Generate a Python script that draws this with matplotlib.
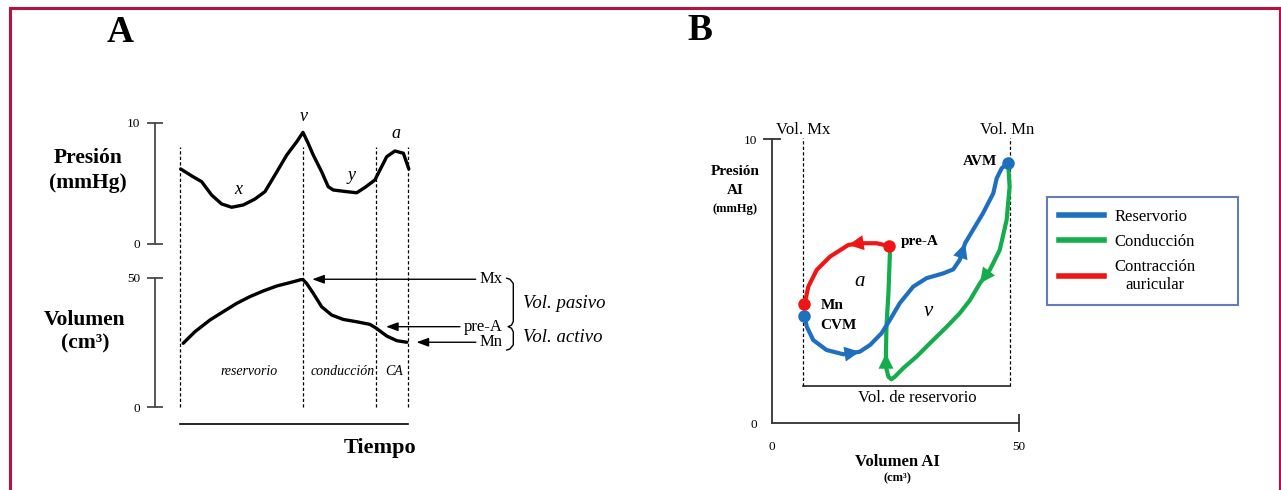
import numpy as np
import matplotlib.pyplot as plt
from matplotlib.patches import Rectangle
from matplotlib.lines import Line2D

plt.rcParams['font.family'] = ['Liberation Serif', 'DejaVu Serif']

# ---- panel A data (time normalised 0..1 over one cycle)
t_phase = [0.0, 0.539, 0.860, 1.0]          # reservorio | conduccion | CA
t_pres = [0.003, 0.057, 0.095, 0.139, 0.183, 0.227, 0.278, 0.329, 0.373, 0.417,
          0.469, 0.513, 0.540, 0.563, 0.585, 0.622, 0.651, 0.673, 0.732, 0.776,
          0.813, 0.856, 0.878, 0.908, 0.944, 0.981, 1.005]
pres = [6.17, 5.53, 5.12, 4.01, 3.27, 3.00, 3.19, 3.68, 4.29, 5.67,
        7.33, 8.43, 9.20, 8.29, 7.33, 5.94, 4.70, 4.43, 4.29, 4.20,
        4.65, 5.26, 6.08, 7.19, 7.66, 7.47, 6.17]
t_vol = [0.014, 0.066, 0.132, 0.190, 0.249, 0.307, 0.366, 0.425, 0.483, 0.538,
         0.556, 0.585, 0.622, 0.666, 0.717, 0.776, 0.834, 0.862, 0.908, 0.952, 0.996]
vol = [24.7, 29.2, 33.7, 36.9, 40.1, 42.7, 44.9, 46.8, 48.1, 49.4,
       47.8, 44.0, 38.8, 35.6, 33.9, 33.0, 32.0, 30.5, 27.5, 25.7, 25.1]
i_prea = 17

# ---- panel B data (volume cm3, pressure mmHg)
blue_v = [6.6, 7.1, 8.4, 11.1, 14.5, 17.8, 19.9, 22.2, 23.9, 25.9, 28.6,
          31.3, 34.7, 36.7, 38.0, 39.1, 40.7, 42.7, 44.8, 45.5, 46.5, 47.8]
blue_p = [3.79, 3.40, 2.93, 2.58, 2.43, 2.52, 2.76, 3.17, 3.64, 4.23, 4.81,
          5.11, 5.28, 5.42, 5.75, 6.34, 6.81, 7.39, 8.10, 8.63, 8.98, 9.18]
green_v = [47.8, 48.1, 47.5, 46.1, 44.1, 42.1, 40.1, 38.0, 35.4, 32.0,
           29.3, 26.6, 24.9, 24.2, 23.6, 23.1, 23.1, 23.2, 23.6, 23.9]
green_p = [9.18, 8.33, 7.16, 6.10, 5.40, 4.93, 4.34, 3.87, 3.40, 2.82,
           2.35, 1.94, 1.64, 1.55, 1.64, 1.99, 2.46, 3.40, 4.58, 5.99]
red_v = [23.8, 21.2, 17.8, 15.5, 11.8, 9.1, 7.4, 6.9, 6.6]
red_p = [6.24, 6.34, 6.34, 6.28, 5.87, 5.40, 4.81, 4.40, 4.20]
vol_mx, vol_mn, p_base = 6.4, 48.1, 1.31

c_blue, c_green, c_red = '#1f6fc0', '#13ad4b', '#f01414'
gray = '#4a4a4a'

W, H = 1281, 490
fig = plt.figure(figsize=(W / 100, H / 100), dpi=100)


def px_axes(x0, y0, x1, y1):
    return fig.add_axes([x0 / W, 1 - y1 / H, (x1 - x0) / W, (y1 - y0) / H])


# outer frame
fig.add_artist(Rectangle((9.5 / W, -0.05), 1270 / W, 1.05 - 8.5 / H, transform=fig.transFigure,
                         fill=False, edgecolor='#b5133f', lw=2.2))

fig.text(120 / W, 1 - 32 / H, 'A', fontsize=27, fontweight='bold', ha='center', va='center')
fig.text(700 / W, 1 - 31 / H, 'B', fontsize=27, fontweight='bold', ha='center', va='center')

# ================= panel A
axP = px_axes(155, 122.7, 520, 243.5)
axV = px_axes(155, 277.7, 520, 407.3)
for ax, top in ((axP, 10), (axV, 50)):
    ax.set_xlim(-0.1098, 1.4932)
    ax.set_ylim(0, top)
    for s in ('top', 'right', 'bottom'):
        ax.spines[s].set_visible(False)
    ax.spines['left'].set_color(gray)
    ax.spines['left'].set_linewidth(1.3)
    ax.set_xticks([])
    ax.set_yticks([0, top])
    ax.tick_params(axis='y', direction='inout', length=11, width=1.3, color=gray,
                   labelsize=9.5, pad=5)
    ax.patch.set_visible(False)

axP.plot(t_pres, pres, color='k', lw=2.4, solid_capstyle='round')
axV.plot(t_vol, vol, color='k', lw=2.4, solid_capstyle='round')
axV.vlines(t_phase, 0, 100.4, colors='k', linestyles=(0, (2.6, 1.8)), lw=0.9, clip_on=False)
axV.plot([t_phase[0], t_phase[-1]], [-6.4, -6.4], color='k', lw=1.2, clip_on=False)

axP.text(-0.404, 7.08, 'Presión', fontsize=15.5, fontweight='bold', ha='center', va='center')
axP.text(-0.404, 5.01, '(mmHg)', fontsize=15.5, fontweight='bold', ha='center', va='center')
axV.text(-0.417, 33.7, 'Volumen', fontsize=15.5, fontweight='bold', ha='center', va='center')
axV.text(-0.417, 24.6, '(cm³)', fontsize=15.5, fontweight='bold', ha='center', va='center')

for s, tx, py in (('x', 0.256, 4.43), ('v', 0.542, 10.5), ('y', 0.754, 5.67), ('a', 0.949, 9.12)):
    axP.text(tx, py, s, fontsize=13, style='italic', ha='center', va='center')

for s, tx in (('reservorio', 0.302), ('conducción', 0.714), ('CA', 0.94)):
    axV.text(tx, 14.0, s, fontsize=10, style='italic', ha='center', va='center')
axV.text(0.878, -15.7, 'Tiempo', fontsize=16, fontweight='bold', ha='center', va='center')

# arrows Mx / pre-A / Mn
v_mx = max(vol)
v_prea = vol[i_prea]
v_mn = vol[-1]
t_lab = 1.4185
for lab, tx, lev in (('Mx', t_vol[int(np.argmax(vol))], v_mx),
                     ('pre-A', t_vol[i_prea], v_prea + 0.6),
                     ('Mn', t_vol[-1], v_mn)):
    axV.annotate(lab, xy=(tx, lev), xytext=(t_lab, lev), fontsize=12, ha='right', va='center',
                 arrowprops=dict(arrowstyle='-|>,head_length=0.6,head_width=0.22', color='k',
                                 lw=1.0, mutation_scale=12, shrinkA=1, shrinkB=7))

# braces
xb, xe, xt = 1.4638, 1.4348, 1.441
top, mid, bot = v_mx + 0.4, v_prea + 0.6, v_mn - 3.0
bx = [xe, xe + 0.014, xb, xb, xb - 0.008, xt, xb - 0.008, xb, xb, xe + 0.014, xe]
by = [top, top - 0.4, top - 2.0, mid + 2.0, mid + 0.6, mid, mid - 0.6, mid - 2.0, bot + 2.0, bot + 0.4, bot]
axV.plot(bx, by, color='k', lw=1.0, clip_on=False)
axV.text(1.5066, (top + mid) / 2 - 0.5, 'Vol. pasivo', fontsize=13.5, style='italic', va='center')
axV.text(1.5066, (mid + bot) / 2 + 0.2, 'Vol. activo', fontsize=13.5, style='italic', va='center')

# ================= panel B
axB = px_axes(771.7, 139.3, 1019, 423.3)
axB.set_xlim(0, 50)
axB.set_ylim(0, 10)
for s in ('top', 'right'):
    axB.spines[s].set_visible(False)
for s in ('left', 'bottom'):
    axB.spines[s].set_color('#333333')
    axB.spines[s].set_linewidth(1.3)
axB.set_xticks([0, 50])
axB.set_yticks([0, 10])
axB.tick_params(direction='inout', length=13, width=1.3, color='#333333', labelsize=9.5)
axB.tick_params(axis='x', pad=6)
axB.tick_params(axis='y', pad=4)
axB.xaxis.get_major_ticks()[0].tick1line.set_visible(False)
axB.yaxis.get_major_ticks()[0].tick1line.set_visible(False)
axB.patch.set_visible(False)

axB.vlines([vol_mx, vol_mn], p_base, 10.05, colors='k', linestyles=(0, (2.6, 1.8)), lw=0.9,
           clip_on=False)
axB.plot([vol_mx, vol_mn], [p_base, p_base], color='#222222', lw=1.2)
axB.text(vol_mx, 10.33, 'Vol. Mx', fontsize=12, ha='center', va='center')
axB.text(47.5, 10.33, 'Vol. Mn', fontsize=12, ha='center', va='center')
axB.text(29.4, 0.89, 'Vol. de reservorio', fontsize=12, ha='center', va='center')

axB.plot(red_v, red_p, color=c_red, lw=3, solid_capstyle='round')
axB.plot(green_v, green_p, color=c_green, lw=3, solid_capstyle='round')
axB.plot(blue_v, blue_p, color=c_blue, lw=3, solid_capstyle='round')


def arrow_on(xs, ys, i, col):
    axB.annotate('', xy=(xs[i + 1], ys[i + 1]), xytext=(xs[i], ys[i]),
                 arrowprops=dict(arrowstyle='-|>,head_length=0.55,head_width=0.27', color=col,
                                 lw=0, mutation_scale=20, shrinkA=0, shrinkB=0))


arrow_on(blue_v, blue_p, 4, c_blue)
arrow_on(blue_v, blue_p, 14, c_blue)
arrow_on(green_v, green_p, 4, c_green)
arrow_on(green_v, green_p, 15, c_green)
arrow_on(red_v, red_p, 2, c_red)

axB.plot([blue_v[0], blue_v[-1]], [blue_p[0], blue_p[-1]], 'o', color=c_blue, ms=8, clip_on=False)
axB.plot([red_v[0], red_v[-1]], [red_p[0], red_p[-1]], 'o', color=c_red, ms=8, clip_on=False)

axB.text(red_v[0] + 2.2, red_p[0] + 0.17, 'pre-A', fontsize=11, fontweight='bold', va='center')
axB.text(red_v[-1] + 3.3, red_p[-1] - 0.04, 'Mn', fontsize=11, fontweight='bold', va='center')
axB.text(red_v[-1] + 3.3, blue_p[0] - 0.36, 'CVM', fontsize=11, fontweight='bold', va='center')
axB.text(blue_v[-1] - 2.3, blue_p[-1] + 0.05, 'AVM', fontsize=11, fontweight='bold',
         ha='right', va='center')
axB.text(17.7, 5.0, 'a', fontsize=15, style='italic', ha='center', va='center')
axB.text(31.7, 3.93, 'v', fontsize=15, style='italic', ha='center', va='center')

axB.text(-7.4, 8.88, 'Presión', fontsize=11, fontweight='bold', ha='center', va='center')
axB.text(-7.4, 8.21, 'AI', fontsize=11, fontweight='bold', ha='center', va='center')
axB.text(-7.4, 7.54, '(mmHg)', fontsize=9, fontweight='bold', ha='center', va='center')
axB.text(25.5, -1.36, 'Volumen AI', fontsize=12, fontweight='bold', ha='center', va='center')
axB.text(25.5, -1.92, '(cm³)', fontsize=9, fontweight='bold', ha='center', va='center')

handles = [Line2D([], [], color=c, lw=4) for c in (c_blue, c_green, c_red)]
leg = axB.legend(handles, ['Reservorio', 'Conducción', 'Contracción\nauricular'],
                 loc='upper left', bbox_to_anchor=(1047 / W, 1 - 316 / H, 191 / W, 119 / H),
                 bbox_transform=fig.transFigure, mode='expand', borderaxespad=0,
                 fancybox=False, edgecolor='#3d5da6', fontsize=12, handlelength=2.7,
                 handletextpad=0.65, labelspacing=0.55, borderpad=0.7)
leg.get_frame().set_linewidth(1.5)
for t in leg.get_texts():
    t.set_multialignment('center')

fig.savefig('out.png', dpi=100, facecolor='white')
